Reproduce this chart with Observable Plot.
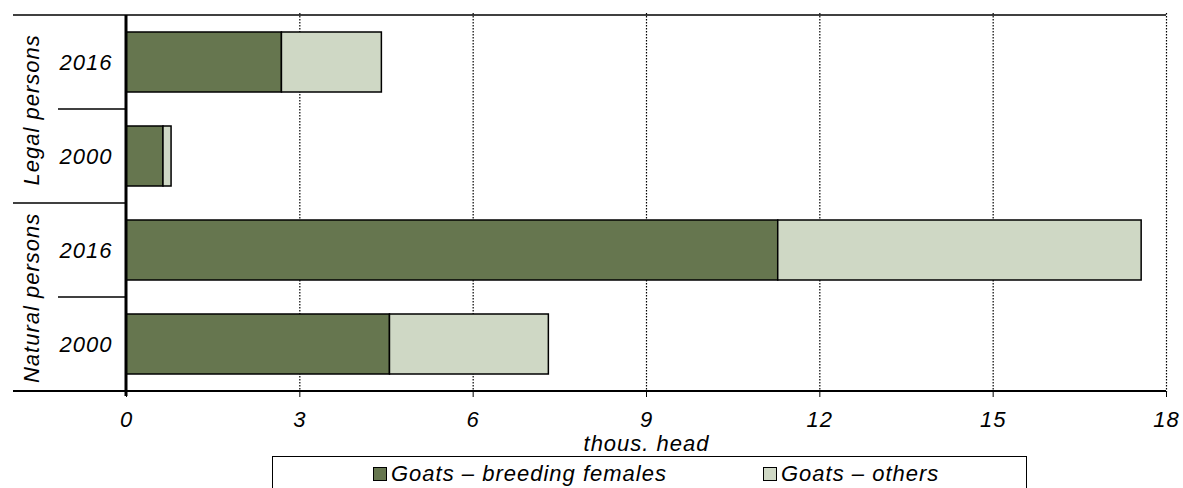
<!DOCTYPE html>
<html>
<head>
<meta charset="utf-8">
<script src="https://cdn.jsdelivr.net/npm/d3@7"></script>
<script src="https://cdn.jsdelivr.net/npm/@observablehq/plot@0.6"></script>
<style>
  html, body { margin: 0; padding: 0; background: #fff; overflow: hidden; }
  #chart svg { display: block; overflow: visible; }
  .legend {
    margin-left: 272px; width: 755px; height: 40px; border: 1.5px solid #000;
    margin-top: 1px; box-sizing: border-box; position: relative;
    font-family: "Liberation Sans", Arial, sans-serif; font-style: italic; font-size: 22px; letter-spacing: 1px; color: #000;
  }
  .legend .item { position: absolute; top: 4px; display: flex; align-items: center; white-space: nowrap; }
  .legend .sw { width: 12px; height: 12px; border: 1.5px solid #000; margin-right: 4px; }
</style>
</head>
<body>
<div id="chart"></div>
<div class="legend" id="legend"></div>
<script>
const groups = ["Legal persons", "Natural persons"];
const years = ["2016", "2000"];
const seriesNames = ["Goats – breeding females", "Goats – others"];
// values in thous. head, order: Legal 2016, Legal 2000, Natural 2016, Natural 2000
const breedingFemales = [2.69, 0.64, 11.28, 4.56];
const others = [1.73, 0.14, 6.29, 2.75];
const xTicks = [0, 3, 6, 9, 12, 15, 18];
const gridTicks = [3, 6, 9, 12, 15, 18];
const colors = ["#66764f", "#cfd8c5"];

const rows = [];
groups.forEach(g => years.forEach(yv => rows.push(g + "|" + yv)));
const data = [];
rows.forEach((r, i) => {
  data.push({row: r, type: seriesNames[0], value: breedingFemales[i]});
  data.push({row: r, type: seriesNames[1], value: others[i]});
});
const groupLabels = groups.map(g => ({label: g, row: g + "|" + years[0]}));

const plot = Plot.plot({
  width: 1183,
  height: 455,
  marginLeft: 126,
  marginRight: 17,
  marginTop: 13,
  marginBottom: 63,
  style: {fontFamily: "'Liberation Sans', Arial, sans-serif", fontSize: "22px", fontStyle: "italic", letterSpacing: "1px", color: "#000", background: "#fff"},
  x: {domain: [0, 18], ticks: xTicks, tickSize: 5, tickPadding: 14, label: "thous. head", labelAnchor: "center", labelOffset: 58, labelArrow: "none"},
  y: {domain: rows, paddingInner: 0.367, paddingOuter: 0.1835, tickSize: 0, tickPadding: 14, tickFormat: r => r.split("|")[1], label: null},
  color: {domain: seriesNames, range: colors},
  marks: [
    Plot.ruleX(gridTicks, {stroke: "#000", strokeWidth: 1.2, strokeDasharray: "1.5,1.5"}),
    Plot.barX(data, {x: "value", y: "row", fill: "type", stroke: "#000", strokeWidth: 1.5}),
    Plot.text(groupLabels, {y: "row", text: "label", frameAnchor: "left", dx: -95, dy: 47.4, rotate: -90, textAnchor: "middle", fontSize: 22, fontStyle: "italic", fill: "#000"})
  ]
});
document.getElementById("chart").appendChild(plot);

// frame and category separator lines from Plot's scales
const sx = plot.scale("x"), sy = plot.scale("y");
const step = sy.step, bw = sy.bandwidth;
const bounds = rows.map(r => sy.apply(r) - (step - bw) / 2);
bounds.push(bounds[0] + rows.length * step);
const x0 = sx.apply(0), x18 = sx.apply(18);
const svg = d3.select(plot);
const g = svg.append("g").attr("stroke", "#000").attr("fill", "none");
const line = (x1, x2, y1, y2, w) => g.append("line").attr("x1", x1).attr("x2", x2).attr("y1", y1).attr("y2", y2).attr("stroke-width", w);
line(13, x18, bounds[0], bounds[0], 1.5);
line(13, x18, bounds[4], bounds[4], 2);
line(13, x0, bounds[2], bounds[2], 1.5);
line(58, x0, bounds[1], bounds[1], 1.5);
line(58, x0, bounds[3], bounds[3], 1.5);
line(x0, x0, bounds[0], bounds[4] + 5, 3);

// legend
const leg = document.getElementById("legend");
const lefts = [100, 490];
seriesNames.forEach((n, i) => {
  const it = document.createElement("div");
  it.className = "item";
  it.style.left = lefts[i] + "px";
  it.innerHTML = `<div class="sw" style="background:${colors[i]}"></div><span>${n}</span>`;
  leg.appendChild(it);
});
</script>
</body>
</html>
